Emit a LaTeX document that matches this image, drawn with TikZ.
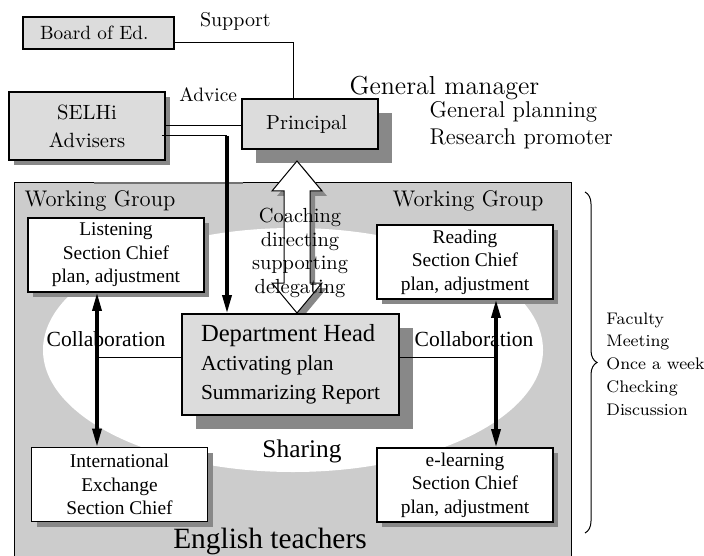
\documentclass[tikz,border=0pt]{standalone}
\usepackage{fontspec}
\newfontfamily\timesfont{Liberation Serif}
\usetikzlibrary{shadows,decorations.pathreplacing,arrows.meta}

\definecolor{boxgray}{HTML}{DCDCDC}
\definecolor{fieldgray}{HTML}{CCCCCC}
\definecolor{shadegray}{HTML}{888888}

\newcommand{\fsize}[2]{\fontsize{#1}{#2}\selectfont}
% hollow double arrow, tip at #1,#2 and length #3 (pixels)
\newcommand{\hollowarrow}[3]{(#1, #2) -- ++(25, 30) -- ++(-12, 0) -- ++(0, #3-60) -- ++(12, 0) -- ++(-25, 30) -- ++(-25, -30) -- ++(12, 0) -- ++(0, 60-#3) -- ++(-12, 0) -- cycle}

\tikzset{
  thinline/.style={line width=0.5pt},
  graybox/.style={draw, line width=0.8pt, fill=boxgray, inner sep=0pt, align=center},
  whitebox/.style={draw, line width=0.8pt, fill=white, inner sep=0pt, align=center,
    minimum width=88pt, minimum height=37pt,
    font=\timesfont\fsize{9.7}{11.8},
    drop shadow={shadow xshift=2.7pt, shadow yshift=-2.7pt, fill=shadegray, opacity=1}},
  bigshadow/.style={drop shadow={shadow xshift=7pt, shadow yshift=-7pt, fill=shadegray, opacity=1}},
  smallshadow/.style={drop shadow={shadow xshift=2.7pt, shadow yshift=-2.7pt, fill=shadegray, opacity=1}},
  bigarrow/.style={line width=1.6pt, -{Triangle[width=4.5pt,length=9pt]}},
  dblarrow/.style={line width=1.6pt, {Triangle[width=4.5pt,length=9pt]}-{Triangle[width=4.5pt,length=9pt]}},
}

\begin{document}
\begin{tikzpicture}[x=0.5pt, y=-0.5pt]
  \useasboundingbox (0, 0) rectangle (704, 555);

  % English teachers field and sharing ellipse
  \draw[thinline, fill=fieldgray] (14, 183) rectangle (571, 560);
  \fill[white] (293, 350) ellipse [x radius=250, y radius=122];
  \draw[line width=1.2pt, black!55] (94, 183) -- (243, 183);

  % top boxes
  \node[graybox, minimum width=75.5pt, minimum height=16pt, font=\fsize{9.6}{11}] (board) at (98.5, 33) { Board of Ed. };
  \node[graybox, smallshadow, minimum width=78pt, minimum height=34pt, font=\fsize{10.3}{14}] (selhi) at (87, 126) { SELHi\\ Advisers };
  \node[graybox, bigshadow, minimum width=68pt, minimum height=25pt, font=\fsize{10.2}{12}] (principal) at (310, 124) { Principal };

  \node (support) at (232, 21) { \fsize{10}{12} Support };
  \node (advice) at (205, 95) { \fsize{9.7}{12} Advice };
  \node[anchor=base west] (manager) at (334, 95) { \fsize{13}{15} General manager };
  \node[anchor=base west] (planning) at (415, 118) { \fsize{11.4}{13} General planning };
  \node[anchor=base west] (promoter) at (415, 145) { \fsize{11.4}{13} Research promoter };

  % coaching arrow between principal and department head
  \fill[shadegray] \hollowarrow{302}{166}{152};
  \draw[thinline, fill=white] \hollowarrow{297}{161}{152};
  \node[align=center, font=\fsize{10.2}{11.9}] (coaching) at (300, 253) { Coaching\\ directing\\ supporting\\ delegating };

  % working groups
  \node[anchor=base, font=\fsize{11.3}{13}] (wgleft) at (100, 206) { Working Group };
  \node[anchor=base, font=\fsize{11.3}{13}] (wgright) at (468, 206) { Working Group };

  \node[whitebox] (listening) at (116, 255) { Listening\\ Section Chief\\ plan, adjustment };
  \node[whitebox] (reading) at (465, 262) { Reading\\ Section Chief\\ plan, adjustment };
  \node[whitebox] (intl) at (119.5, 484.5) { International\\ Exchange\\ Section Chief };
  \node[whitebox] (elearning) at (465, 485) { e-learning\\ Section Chief\\ plan, adjustment };

  \node[graybox, bigshadow, minimum width=108.5pt, minimum height=50.5pt, align=left, font=\timesfont\fsize{10.7}{14.5}] (dept) at (290.5, 364.5)
    { {\fsize{12.3}{14.5}Department Head}\\ Activating plan\\ Summarizing Report };

  \node[anchor=base, font=\timesfont\fsize{10.8}{13}] (collleft) at (106, 346) { Collaboration };
  \node[anchor=base, font=\timesfont\fsize{10.8}{13}] (collright) at (474, 346) { Collaboration };
  \node[anchor=base, font=\timesfont\fsize{12.7}{15}] (sharing) at (302, 457) { Sharing };
  \node[anchor=base, font=\timesfont\fsize{14.7}{17}] (teachers) at (270, 548) { English teachers };

  % connectors
  \coordinate (lx) at ([xshift=-9.5pt]listening.south);
  \coordinate (rx) at ([xshift=15.5pt]reading.south);
  \coordinate (ax) at (227, 136);

  \draw[thinline] ([yshift=-5pt]board.east) -| ([xshift=-8.5pt]principal.north);
  \draw[thinline] (selhi.east) -- (selhi.east -| principal.west);
  \draw[thinline] ([xshift=-2pt, yshift=-5pt]selhi.east) -- (ax);
  \draw[bigarrow] (ax) -- (ax |- dept.north);

  \draw[thinline] ([yshift=3.75pt]dept.west) -- ([yshift=3.75pt]dept.west -| lx);
  \draw[thinline] ([yshift=3.75pt]dept.east) -- ([yshift=3.75pt]dept.east -| rx);
  \draw[dblarrow] (lx) -- (lx |- intl.north);
  \draw[dblarrow] (rx) -- (rx |- elearning.north);

  % faculty meeting
  \draw[thinline, decorate, decoration={brace, amplitude=6pt}] (585, 192) -- (585, 533);
  \node[anchor=west, align=left, inner sep=0pt, font=\fsize{8.4}{11.4}] (meeting) at (606, 364) { Faculty\\ Meeting\\ Once a week\\ Checking\\ Discussion };
\end{tikzpicture}
\end{document}
